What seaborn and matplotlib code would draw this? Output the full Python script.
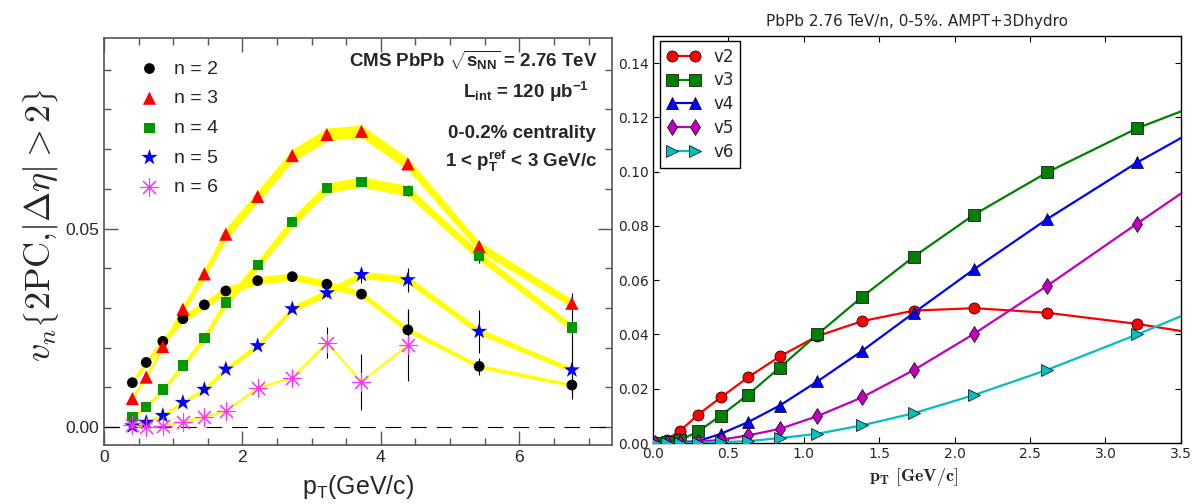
import numpy as np
import pandas as pd
import matplotlib
matplotlib.use("Agg")
import matplotlib.pyplot as plt
import seaborn as sns
from matplotlib.ticker import MultipleLocator, FormatStrFormatter

sns.set_style("ticks")
plt.rcParams['font.family'] = ['Liberation Sans', 'DejaVu Sans']
plt.rcParams['mathtext.fontset'] = 'custom'
plt.rcParams['mathtext.rm'] = 'Liberation Sans'
plt.rcParams['mathtext.bf'] = 'Liberation Sans:bold'
plt.rcParams['mathtext.it'] = 'Liberation Sans:italic'
plt.rcParams['mathtext.sf'] = 'Liberation Sans'

# ---------------- Left panel: CMS data ----------------
cms_pt = [0.41, 0.61, 0.85, 1.14, 1.45, 1.76, 2.22, 2.72, 3.22, 3.72, 4.39, 5.42, 6.76]
cms_v2 = [0.0112, 0.0163, 0.0216, 0.0273, 0.0308, 0.0343, 0.0369, 0.0379, 0.0360, 0.0335, 0.0245, 0.0153, 0.0106]
cms_v3 = [0.0072, 0.0126, 0.0203, 0.0297, 0.0386, 0.0486, 0.0581, 0.0684, 0.0737, 0.0745, 0.0663, 0.0455, 0.0312]
cms_v4 = [0.0026, 0.0050, 0.0095, 0.0155, 0.0225, 0.0314, 0.0408, 0.0516, 0.0602, 0.0618, 0.0595, 0.0431, 0.0251]
cms_v5 = [0.0003, 0.0012, 0.0029, 0.0062, 0.0095, 0.0146, 0.0205, 0.0298, 0.0338, 0.0384, 0.0371, 0.0241, 0.0144]
cms_pt6 = [0.41, 0.61, 0.85, 1.14, 1.45, 1.76, 2.22, 2.72, 3.22, 3.72, 4.39]
cms_v6 = [0.0005, 0.0000, 0.0003, 0.0013, 0.0026, 0.0040, 0.0099, 0.0124, 0.0213, 0.0114, 0.0207]

# statistical errors
stat_v2 = [0.0002, 0.0002, 0.0002, 0.0002, 0.0002, 0.0003, 0.0004, 0.0005, 0.0008, 0.0010, 0.0050, 0.0022, 0.0035]
stat_v3 = [0.0002, 0.0002, 0.0002, 0.0002, 0.0002, 0.0003, 0.0004, 0.0005, 0.0006, 0.0008, 0.0012, 0.0015, 0.0025]
stat_v4 = [0.0002, 0.0002, 0.0002, 0.0002, 0.0002, 0.0003, 0.0004, 0.0005, 0.0007, 0.0009, 0.0014, 0.0018, 0.0060]
stat_v5 = [0.0002, 0.0002, 0.0002, 0.0002, 0.0003, 0.0004, 0.0005, 0.0007, 0.0010, 0.0020, 0.0030, 0.0053, 0.0060]
stat_v6 = [0.0003, 0.0003, 0.0003, 0.0004, 0.0005, 0.0006, 0.0010, 0.0020, 0.0040, 0.0070, 0.0090]

# systematic (band half-widths)
sys_v2 = [0.0006, 0.0008, 0.0009, 0.0010, 0.0010, 0.0010, 0.0010, 0.0009, 0.0009, 0.0008, 0.0007, 0.0005, 0.0004]
sys_v3 = [0.0003, 0.0005, 0.0008, 0.0011, 0.0013, 0.0015, 0.0015, 0.0016, 0.0016, 0.0016, 0.0015, 0.0012, 0.0010]
sys_v4 = [0.0002, 0.0003, 0.0005, 0.0007, 0.0009, 0.0011, 0.0012, 0.0013, 0.0013, 0.0013, 0.0013, 0.0011, 0.0009]
sys_v5 = [0.0001, 0.0002, 0.0003, 0.0004, 0.0005, 0.0006, 0.0007, 0.0008, 0.0009, 0.0009, 0.0009, 0.0008, 0.0006]
sys_v6 = [0.0001, 0.0001, 0.0001, 0.0001, 0.0001, 0.0001, 0.0001, 0.0001, 0.0001, 0.0001, 0.0001]

cms_labels = ["n = 2", "n = 3", "n = 4", "n = 5", "n = 6"]

# ---------------- Right panel: AMPT+3Dhydro ----------------
hyd_pt = [0.01, 0.09, 0.18, 0.30, 0.45, 0.63, 0.84, 1.09, 1.385, 1.73, 2.13, 2.615, 3.21, 3.91]
hyd_v2 = [0.0003, 0.0012, 0.0045, 0.0105, 0.0168, 0.0242, 0.0319, 0.0394, 0.0449, 0.0488, 0.0497, 0.0480, 0.0439, 0.0376]
hyd_v3 = [0.0000, 0.0003, 0.0010, 0.0043, 0.0101, 0.0178, 0.0278, 0.0400, 0.0538, 0.0687, 0.0842, 0.0998, 0.1160, 0.1310]
hyd_v4 = [0.0000, 0.0001, 0.0003, 0.0007, 0.0034, 0.0077, 0.0138, 0.0227, 0.0339, 0.0480, 0.0641, 0.0826, 0.1034, 0.1251]
hyd_v5 = [0.0000, 0.0000, 0.0001, 0.0004, 0.0012, 0.0028, 0.0052, 0.0099, 0.0168, 0.0269, 0.0403, 0.0580, 0.0809, 0.1075]
hyd_v6 = [0.0000, 0.0000, 0.0000, 0.0001, 0.0003, 0.0007, 0.0018, 0.0034, 0.0065, 0.0110, 0.0177, 0.0270, 0.0400, 0.0562]
hyd_labels = ["v2", "v3", "v4", "v5", "v6"]

fig = plt.figure(figsize=(11.94, 5.04), dpi=100)
ax1 = fig.add_axes([0.0871, 0.117, 0.4255, 0.8076])
ax2 = fig.add_axes([0.5469, 0.121, 0.4421, 0.8075])

# ---- left panel ----
yellow = '#ffff00'
series = [
    (cms_pt, cms_v2, stat_v2, sys_v2, 'o', 'black', 60),
    (cms_pt, cms_v3, stat_v3, sys_v3, '^', '#ff0000', 90),
    (cms_pt, cms_v4, stat_v4, sys_v4, 's', '#009900', 55),
    (cms_pt, cms_v5, stat_v5, sys_v5, '*', '#0000ff', 150),
    (cms_pt6, cms_v6, stat_v6, sys_v6, (8, 2, 0), '#ff33ff', 160),
]
for (x, y, st, sy, mk, col, s), lab in zip(series, cms_labels):
    xa, ya, sa = np.asarray(x), np.asarray(y), np.asarray(sy)
    ax1.fill_between(xa, ya - sa, ya + sa, color=yellow, lw=0, zorder=2)
    sns.lineplot(x=x, y=y, ax=ax1, color=yellow, lw=1.5, estimator=None,
                 sort=False, zorder=2, legend=False)
    ax1.errorbar(x, y, yerr=st, fmt='none', ecolor='black', elinewidth=0.8,
                 capsize=0, zorder=3)
for (x, y, st, sy, mk, col, s), lab in zip(series, cms_labels):
    if isinstance(mk, tuple):
        sns.scatterplot(x=x, y=y, ax=ax1, marker=mk, color=col, s=s,
                        linewidth=0.8, label=lab, zorder=5)
    else:
        sns.scatterplot(x=x, y=y, ax=ax1, marker=mk, color=col, s=s,
                        edgecolor='none', label=lab, zorder=5)

ax1.axhline(0, color='black', lw=0.8, dashes=(14, 9), zorder=1)
ax1.set_xlim(0, 7.34)
ax1.set_ylim(-0.0045, 0.098)
ax1.xaxis.set_major_locator(MultipleLocator(2))
ax1.xaxis.set_minor_locator(MultipleLocator(0.5))
ax1.yaxis.set_major_locator(MultipleLocator(0.05))
ax1.yaxis.set_minor_locator(MultipleLocator(0.01))
ax1.yaxis.set_major_formatter(FormatStrFormatter('%.2f'))
ax1.tick_params(which='both', direction='in', top=True, right=True,
                color='#555555', labelsize=12.5)
ax1.tick_params(which='major', length=10, width=1)
ax1.tick_params(which='minor', length=5, width=1)
for sp in ax1.spines.values():
    sp.set_color('#555555')
    sp.set_linewidth(1.2)
ax1.set_xlabel(r'p$_\mathrm{T}$(GeV/c)', fontsize=18)
ax1.xaxis.set_label_coords(0.5, -0.068)
ax1.set_ylabel(r'$v_n\left\{2\mathrm{PC}{,}|\Delta\eta|>2\right\}$', fontsize=26,
               math_fontfamily='cm')
ax1.yaxis.set_label_coords(-0.085, 0.54)

leg1 = ax1.legend(loc='upper left', bbox_to_anchor=(0.055, 0.965), frameon=False,
                  fontsize=14, handlelength=1.0, handletextpad=0.75,
                  labelspacing=0.62, borderaxespad=0, scatterpoints=1)

tx = 0.972
ax1.text(tx, 0.929, r'CMS PbPb $\sqrt{\mathbf{s}_{\mathbf{NN}}}$ = 2.76 TeV',
         transform=ax1.transAxes, ha='right', va='baseline', fontsize=13.5, fontweight='bold')
ax1.text(tx - 0.018, 0.853, r'L$_{\mathbf{int}}$ = 120 μb$^{\mathbf{-1}}$',
         transform=ax1.transAxes, ha='right', va='baseline', fontsize=13.5, fontweight='bold')
ax1.text(tx - 0.004, 0.754, '0-0.2% centrality',
         transform=ax1.transAxes, ha='right', va='baseline', fontsize=13.5, fontweight='bold')
ax1.text(tx, 0.683, r'1 < p$_{\mathbf{T}}^{\mathbf{ref}}$ < 3 GeV/c',
         transform=ax1.transAxes, ha='right', va='baseline', fontsize=13.5, fontweight='bold')

# ---- right panel ----
hyd_series = [
    (hyd_v2, 'o', '#ff0000'),
    (hyd_v3, 's', '#008000'),
    (hyd_v4, '^', '#0000ff'),
    (hyd_v5, 'd', '#bf00bf'),
    (hyd_v6, '>', '#00bfbf'),
]
for (y, mk, col), lab in zip(hyd_series, hyd_labels):
    sns.lineplot(x=hyd_pt, y=y, ax=ax2, color=col, lw=1.6, marker=mk,
                 markersize=8, markeredgecolor='black', markeredgewidth=0.5,
                 estimator=None, sort=False, label=lab, zorder=3)

ax2.set_xlim(0, 3.5)
ax2.set_ylim(0, 0.15)
ax2.xaxis.set_major_locator(MultipleLocator(0.5))
ax2.yaxis.set_major_locator(MultipleLocator(0.02))
ax2.xaxis.set_major_formatter(FormatStrFormatter('%.1f'))
ax2.yaxis.set_major_formatter(FormatStrFormatter('%.2f'))
ax2.tick_params(which='both', direction='in', top=True, right=True,
                length=4, width=0.8, color='black', labelsize=10,
                labelfontfamily='DejaVu Sans', pad=3)
for sp in ax2.spines.values():
    sp.set_color('black')
    sp.set_linewidth(1.0)
ax2.set_title('PbPb 2.76 TeV/n, 0-5%. AMPT+3Dhydro', fontsize=11,
              fontfamily='DejaVu Sans', pad=7)
ax2.set_xlabel(r'$\mathbf{p_T\ [GeV/c]}$', fontsize=13, math_fontfamily='cm')
ax2.xaxis.set_label_coords(0.494, -0.057)
ax2.set_ylabel('')
leg2 = ax2.legend(loc='upper left', bbox_to_anchor=(0.013, 0.988), borderaxespad=0,
                  numpoints=2, fancybox=False, framealpha=1, edgecolor='black',
                  prop={'family': 'DejaVu Sans', 'size': 12}, labelspacing=0.35,
                  handlelength=2.0, handletextpad=0.8)
leg2.get_frame().set_linewidth(1.0)

fig.savefig('out.png', dpi=100)
